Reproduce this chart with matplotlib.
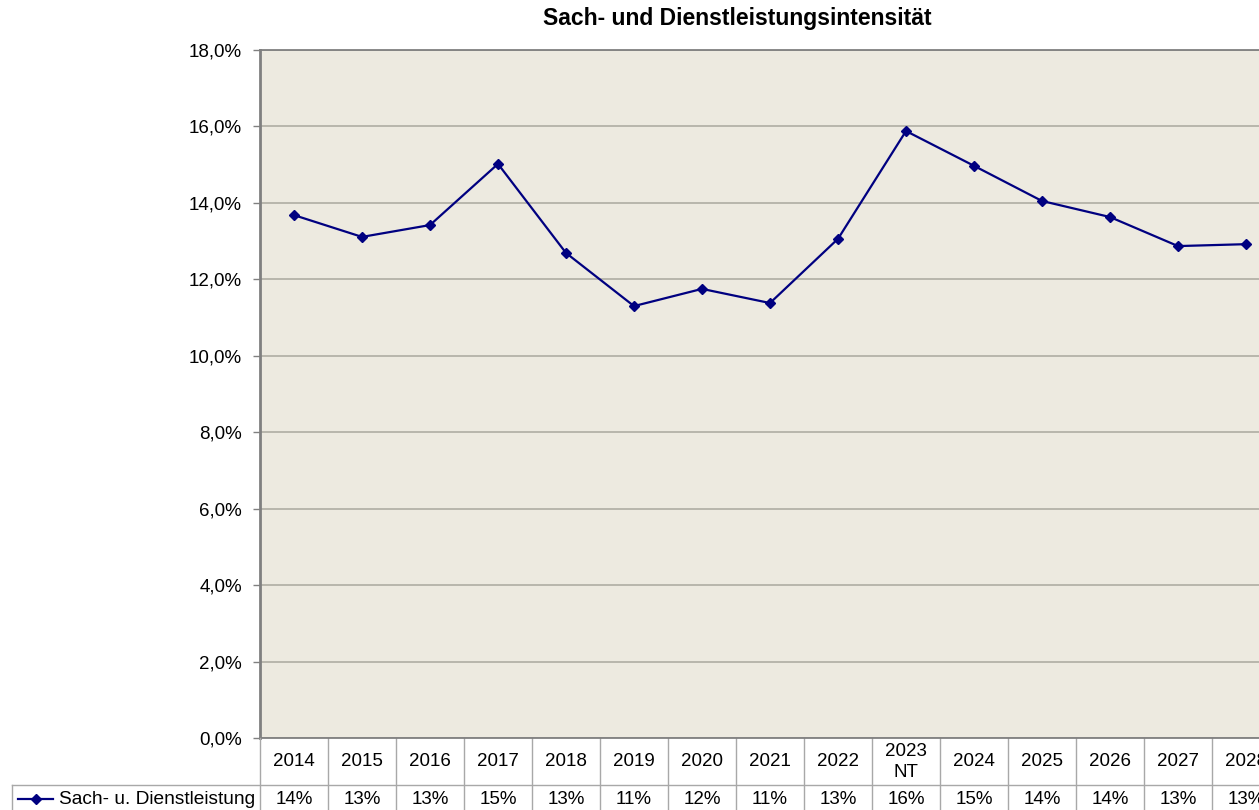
import matplotlib
matplotlib.use("Agg")
import matplotlib.pyplot as plt
from matplotlib.lines import Line2D
from matplotlib.ticker import FuncFormatter, MultipleLocator
import matplotlib.transforms as mtrans

plt.rcParams['font.family'] = ['Liberation Sans', 'DejaVu Sans']

# data
years = ["2014", "2015", "2016", "2017", "2018", "2019", "2020", "2021",
         "2022", "2023\nNT", "2024", "2025", "2026", "2027", "2028"]
values = [13.68, 13.11, 13.42, 15.02, 12.69, 11.30, 11.75, 11.38,
          13.06, 15.88, 14.97, 14.05, 13.63, 12.87, 12.92]
table_labels = ["14%", "13%", "13%", "15%", "13%", "11%", "12%", "11%",
                "13%", "16%", "15%", "14%", "14%", "13%", "13%"]
series_name = "Sach- u. Dienstleistung"
title = "Sach- und Dienstleistungsintensität"

W, H = 1259, 810
fig = plt.figure(figsize=(W / 100, H / 100), dpi=100)
fig.patch.set_facecolor('white')

# plot area runs past the right edge, like the cropped original
x0, x1 = 260, 1280
y_top, y_bot = 50, 738
ax = fig.add_axes([x0 / W, 1 - y_bot / H, (x1 - x0) / W, (y_bot - y_top) / H])
ax.set_facecolor('#EDEAE0')

fs = 13.5
n = len(years)
xs = list(range(n))
ax.set_xlim(-0.5, n - 0.5)
ax.set_ylim(0, 18)
ax.yaxis.set_major_locator(MultipleLocator(2))
ax.yaxis.set_major_formatter(FuncFormatter(lambda v, p: f"{v:.1f}%".replace('.', ',')))
ax.grid(axis='y', color='#B4B2A8', linewidth=1.3)
ax.set_axisbelow(True)
ax.set_xticks([])
ax.tick_params(axis='y', labelsize=fs, length=5, width=1, color='#808080', pad=8)

for side in ['top', 'left', 'bottom', 'right']:
    ax.spines[side].set_color('#808080')
ax.spines['left'].set_linewidth(2)
ax.spines['top'].set_linewidth(1.3)
ax.spines['bottom'].set_linewidth(1.3)
ax.spines['right'].set_visible(False)

line_color = '#000080'
ax.plot(xs, values, color=line_color, linewidth=1.6, marker='D', markersize=5.5,
        markerfacecolor=line_color, markeredgecolor=line_color)

fig.text(737 / W, 1 - 18 / H, title, ha='center', va='center',
         fontsize=16.5, fontweight='bold')

# data table under the axis
trans = mtrans.blended_transform_factory(ax.transData, fig.transFigure)
grid_c = '#A8A8A8'
row_mid = 785
for i in range(n):
    ax.text(xs[i], 1 - 762 / H, years[i], transform=trans, ha='center', va='center',
            fontsize=fs, linespacing=1.3, clip_on=False)
    ax.text(xs[i], 1 - 799 / H, table_labels[i], transform=trans, ha='center',
            va='center', fontsize=fs, clip_on=False)
    ax.add_line(Line2D([i + 0.5, i + 0.5], [1 - y_bot / H, 0], transform=trans,
                       color=grid_c, linewidth=1, clip_on=False))

fig.add_artist(Line2D([12 / W, 1], [1 - row_mid / H, 1 - row_mid / H],
                      color=grid_c, linewidth=1))
fig.add_artist(Line2D([12 / W, 12 / W], [1 - row_mid / H, 0], color=grid_c, linewidth=1))
fig.add_artist(Line2D([x0 / W, x0 / W], [1 - y_bot / H, 0], color=grid_c, linewidth=1))

# legend key in the table
ky = 1 - 799 / H
fig.add_artist(Line2D([18 / W, 53 / W], [ky, ky], color=line_color, linewidth=1.6))
fig.add_artist(Line2D([35.5 / W], [ky], color=line_color, marker='D', markersize=5))
fig.text(59 / W, ky, series_name, ha='left', va='center', fontsize=fs * 1.02)

fig.savefig('out.png', dpi=100)
